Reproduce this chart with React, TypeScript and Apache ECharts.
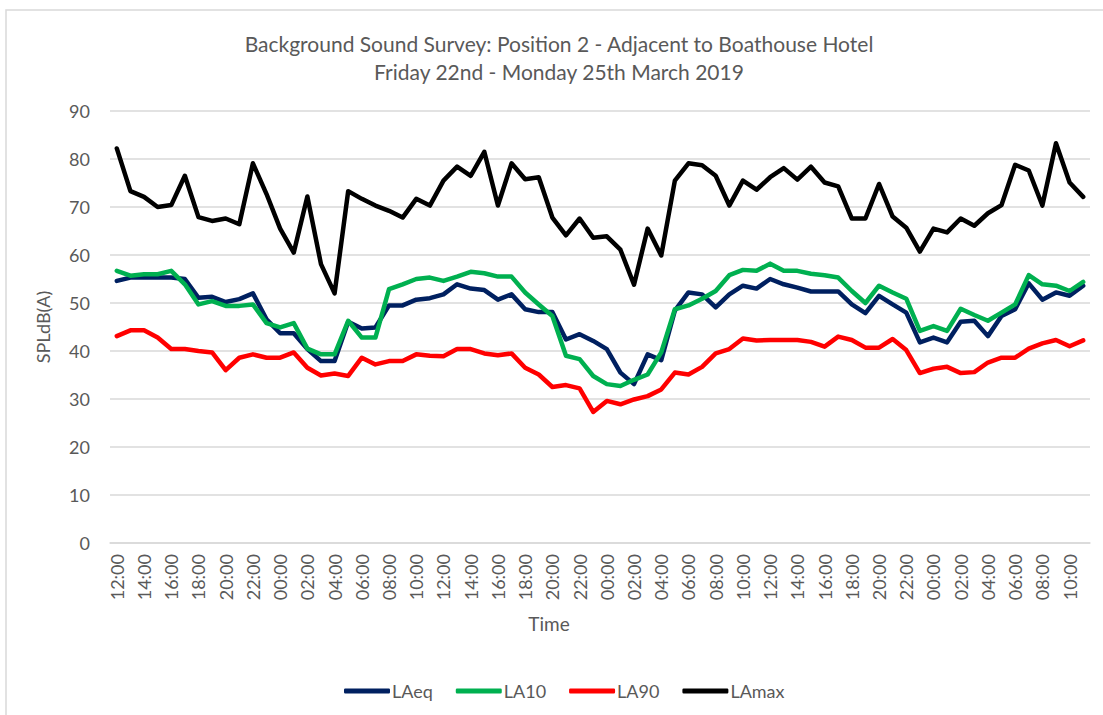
import React, { useEffect, useRef } from "react";
import * as echarts from "echarts";

const hours: string[] = [];
for (let i = 0; i < 72; i++) {
  const h = (12 + i) % 24;
  hours.push((h < 10 ? "0" : "") + h + ":00");
}

const LAeq = [
  54.6, 55.3, 55.3, 55.3, 55.3, 55.0, 51.1, 51.3, 50.2, 50.8, 52.0, 46.6,
  43.7, 43.7, 40.4, 37.9, 37.9, 46.1, 44.7, 44.9, 49.5, 49.5, 50.7, 51.0,
  51.8, 53.9, 53.0, 52.7, 50.7, 51.8, 48.7, 48.1, 48.1, 42.4, 43.5, 42.1,
  40.4, 35.5, 33.1, 39.3, 38.1, 48.4, 52.2, 51.8, 49.1, 51.8, 53.6, 53.0,
  55.0, 53.9, 53.2, 52.4, 52.4, 52.4, 49.7, 47.9, 51.5, 49.7, 48.0, 41.8,
  42.8, 41.8, 46.1, 46.3, 43.1, 47.3, 48.7, 54.1, 50.7, 52.2, 51.5, 53.6,
];

const LA10 = [
  56.7, 55.7, 56.0, 56.0, 56.7, 53.9, 49.7, 50.4, 49.4, 49.4, 49.7, 45.8,
  44.9, 45.8, 40.5, 39.3, 39.3, 46.3, 42.8, 42.8, 52.9, 53.9, 55.0, 55.3,
  54.6, 55.5, 56.5, 56.2, 55.5, 55.5, 52.2, 49.7, 47.3, 39.0, 38.3, 34.8,
  33.1, 32.7, 34.0, 35.1, 39.7, 48.7, 49.5, 50.9, 52.5, 55.8, 56.9, 56.7,
  58.2, 56.7, 56.7, 56.1, 55.8, 55.3, 52.5, 50.0, 53.6, 52.2, 50.9, 44.2,
  45.2, 44.2, 48.8, 47.5, 46.3, 48.0, 49.7, 55.8, 53.9, 53.6, 52.5, 54.4,
];

const LA90 = [
  43.1, 44.3, 44.3, 42.8, 40.4, 40.4, 40.0, 39.7, 36.0, 38.6, 39.3, 38.6,
  38.6, 39.7, 36.5, 34.9, 35.3, 34.8, 38.6, 37.2, 37.9, 37.9, 39.3, 39.0,
  38.9, 40.4, 40.4, 39.5, 39.1, 39.5, 36.5, 35.1, 32.5, 32.9, 32.2, 27.3,
  29.6, 28.9, 29.9, 30.6, 32.0, 35.5, 35.1, 36.7, 39.5, 40.4, 42.6, 42.2,
  42.3, 42.3, 42.3, 41.9, 40.9, 43.0, 42.3, 40.7, 40.7, 42.5, 40.2, 35.4,
  36.3, 36.7, 35.4, 35.6, 37.6, 38.6, 38.6, 40.5, 41.6, 42.3, 41.0, 42.2,
];

const LAmax = [
  82.2, 73.3, 72.1, 70.0, 70.4, 76.5, 67.9, 67.1, 67.6, 66.4, 79.1, 72.7,
  65.5, 60.5, 72.2, 58.1, 52.0, 73.3, 71.7, 70.3, 69.2, 67.8, 71.7, 70.3,
  75.5, 78.4, 76.5, 81.5, 70.3, 79.1, 75.8, 76.2, 67.8, 64.1, 67.6, 63.6,
  63.9, 61.1, 53.8, 65.5, 59.9, 75.5, 79.1, 78.7, 76.5, 70.3, 75.5, 73.6,
  76.2, 78.1, 75.7, 78.4, 75.1, 74.3, 67.6, 67.6, 74.8, 68.0, 65.7, 60.7,
  65.5, 64.7, 67.6, 66.1, 68.7, 70.4, 78.8, 77.6, 70.3, 83.3, 75.1, 72.1,
];

const seriesNames = ["LAeq", "LA10", "LA90", "LAmax"];
const seriesData = [LAeq, LA10, LA90, LAmax];
const seriesColors = ["#002060", "#00B050", "#FF0000", "#000000"];

const titleLines = [
  "Background Sound Survey: Position 2 - Adjacent to Boathouse Hotel",
  "Friday 22nd - Monday 25th March 2019",
];

const FONT = "Lato, 'Open Sans', sans-serif";
const TEXT_COLOR = "#595959";

export default function App() {
  const ref = useRef<HTMLDivElement>(null);
  useEffect(() => {
    if (!ref.current) return;
    const chart = echarts.init(ref.current, null, { renderer: "svg" });
    chart.setOption({
      animation: false,
      backgroundColor: "#ffffff",
      textStyle: { fontFamily: FONT },
      title: {
        text: titleLines.join("\n"),
        left: 554,
        textAlign: "center",
        top: 24,
        textStyle: {
          fontFamily: FONT,
          fontSize: 21,
          fontWeight: "normal",
          color: TEXT_COLOR,
          lineHeight: 28,
        },
      },
      graphic: [
        {
          type: "rect",
          shape: { x: 6, y: 10, width: 1110, height: 720 },
          style: { fill: "none", stroke: "#d9d9d9", lineWidth: 1.5 },
          silent: true,
        },
        {
          type: "text",
          x: 549,
          y: 623,
          style: {
            text: "Time",
            fontFamily: FONT,
            fontSize: 19,
            fill: TEXT_COLOR,
            align: "center",
            verticalAlign: "middle",
          },
        },
      ],
      legend: {
        data: seriesNames,
        left: 339,
        top: 677,
        icon: "roundRect",
        itemWidth: 46,
        itemHeight: 5,
        itemGap: 23,
        textStyle: { fontFamily: FONT, fontSize: 18, color: TEXT_COLOR, padding: [0, 0, 0, -3] },
      },
      grid: { left: 110, right: 13, top: 111, bottom: 172, containLabel: false },
      xAxis: {
        type: "category",
        data: hours,
        boundaryGap: true,
        axisLine: { show: true, lineStyle: { color: "#d9d9d9", width: 1.5 } },
        axisTick: { show: false },
        axisLabel: {
          interval: 1,
          rotate: 90,
          margin: 11,
          fontFamily: FONT,
          fontSize: 18,
          color: TEXT_COLOR,
        },
      },
      yAxis: {
        type: "value",
        min: 0,
        max: 90,
        interval: 10,
        name: "SPLdB(A)",
        nameLocation: "middle",
        nameGap: 58,
        nameRotate: 90,
        nameTextStyle: { fontFamily: FONT, fontSize: 18, color: TEXT_COLOR },
        axisLine: { show: false },
        axisTick: { show: false },
        axisLabel: { margin: 20, fontFamily: FONT, fontSize: 18, color: TEXT_COLOR },
        splitLine: { lineStyle: { color: "#d9d9d9", width: 1.5 } },
      },
      series: seriesNames.map((name, k) => ({
        name,
        type: "line",
        data: seriesData[k],
        symbol: "none",
        showSymbol: false,
        lineStyle: { color: seriesColors[k], width: 4.5, cap: "round", join: "round" },
        itemStyle: { color: seriesColors[k] },
        z: 2 + k,
      })),
    });
    return () => chart.dispose();
  }, []);
  return (
    <div
      ref={ref}
      style={{ position: "fixed", left: 0, top: 0, width: 1103, height: 715 }}
    />
  );
}
